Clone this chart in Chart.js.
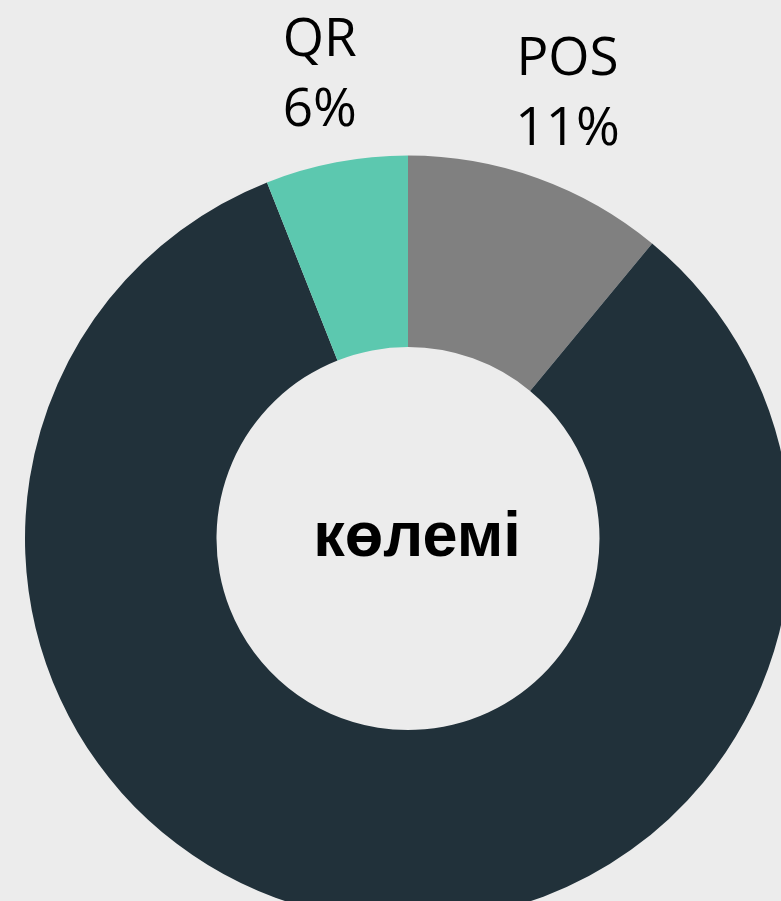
<!DOCTYPE html>
<html>
<head>
<meta charset="utf-8">
<script src="https://cdn.jsdelivr.net/npm/chart.js@4"></script>
<style>
  html, body { margin: 0; padding: 0; background: #ececec; overflow: hidden; width: 781px; height: 901px; }
  canvas { position: absolute; left: 0; top: 0; }
</style>
</head>
<body>
<canvas id="graphique" width="816" height="922"></canvas>
<script>
const categories = ["POS", "", "QR"];
const valeurs = [11, 83, 6];
const couleurs = ["#808080", "#21313a", "#5cc8af"];
const titreCentre = "көлемі";

// labels above the slices + text in the hole
const pluginTextes = {
  id: "textes",
  afterDraw(chart) {
    const ctx = chart.ctx;
    const meta = chart.getDatasetMeta(0);
    ctx.save();
    ctx.fillStyle = "#000";
    ctx.textAlign = "center";
    ctx.textBaseline = "middle";
    ctx.font = "53px 'Open Sans'";
    meta.data.forEach((arc, i) => {
      if (!categories[i]) return;
      const angle = (arc.startAngle + arc.endAngle) / 2;
      const r = arc.outerRadius * 1.23;
      const x = arc.x + Math.cos(angle) * r;
      const y = arc.y + Math.sin(angle) * r;
      ctx.fillText(categories[i], x, y - 35);
      ctx.fillText(valeurs[i] + "%", x, y + 35);
    });
    const a = meta.data[0];
    ctx.font = "bold 63px 'Liberation Sans'";
    ctx.fillText(titreCentre, a.x + 9, a.y);
    ctx.restore();
  }
};

const graphique = new Chart(document.querySelector("#graphique"), {
  type: "doughnut",
  data: {
    labels: categories,
    datasets: [{
      data: valeurs,
      backgroundColor: couleurs,
      borderWidth: 0,
    }],
  },
  options: {
    responsive: false,
    animation: false,
    cutout: "50%",
    layout: { padding: { top: 155, left: 25, right: 25, bottom: 0 } },
    plugins: { legend: { display: false }, tooltip: { enabled: false } },
  },
  plugins: [pluginTextes],
});
</script>
</body>
</html>
